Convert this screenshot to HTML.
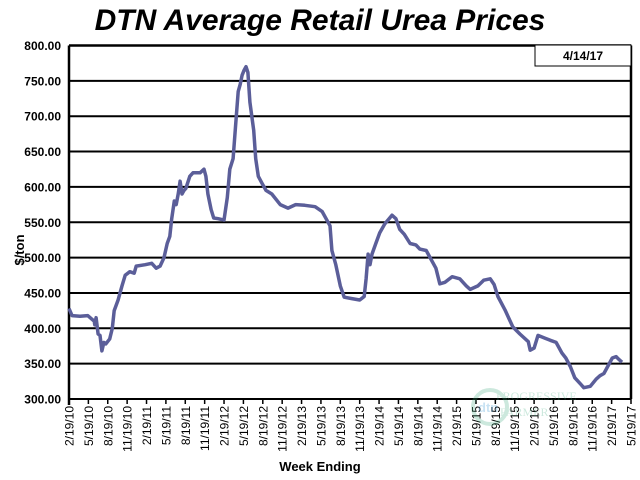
<!DOCTYPE html>
<html><head><meta charset="utf-8">
<style>
html,body{margin:0;padding:0;background:#fff;}
svg{display:block;font-family:"Liberation Sans",sans-serif;}
</style></head>
<body>
<svg id="chart" width="640" height="480" viewBox="0 0 640 480">
<text x="320" y="30" text-anchor="middle" font-size="30" font-weight="bold" font-style="italic">DTN Average Retail Urea Prices</text>
<g id="grid"></g>
<g id="yticks"></g>
<g id="xticks"></g>
<g opacity="0.25">
<circle cx="490" cy="407" r="17" fill="none" stroke="#3aa87a" stroke-width="4"/>
<text x="478" y="412" font-size="13" fill="#2a8fd0" font-weight="bold">dtn</text>
<text x="496" y="400" font-size="12" fill="#3aa87a" font-family="Liberation Serif,serif">PROGRESSIVE</text>
<text x="500" y="416" font-size="12" fill="#3aa87a" font-family="Liberation Serif,serif">FARMER</text>
</g>
<path id="series" fill="none" stroke="#5b5e99" stroke-width="3.5" stroke-linejoin="round"/>
<rect x="535" y="45" width="96" height="21" fill="#fff" stroke="#000" stroke-width="1"/>
<text x="583" y="60" text-anchor="middle" font-size="12" font-weight="bold">4/14/17</text>
<text transform="translate(24,250) rotate(-90)" text-anchor="middle" font-size="13" font-weight="bold">$/ton</text>
<text x="320" y="471" text-anchor="middle" font-size="13" font-weight="bold">Week Ending</text>
</svg>
<script>
const yTicks = [300,350,400,450,500,550,600,650,700,750,800];
const xTickLabels = ["2/19/10","5/19/10","8/19/10","11/19/10","2/19/11","5/19/11","8/19/11","11/19/11","2/19/12","5/19/12","8/19/12","11/19/12","2/19/13","5/19/13","8/19/13","11/19/13","2/19/14","5/19/14","8/19/14","11/19/14","2/19/15","5/19/15","8/19/15","11/19/15","2/19/16","5/19/16","8/19/16","11/19/16","2/19/17","5/19/17"];
// months since 2/19/10
const months = [0,0.46,1.7,2.9,3.9,4.0,4.2,4.5,4.8,5.1,5.4,5.7,6.3,6.7,7.0,7.6,8.2,8.7,9.4,10.1,10.4,11.8,12.8,13.5,14.1,14.7,15.2,15.6,15.9,16.3,16.6,16.9,17.2,17.5,17.8,18.1,18.7,19.2,20.3,20.9,21.2,21.5,22.0,22.4,23.1,24.0,24.5,24.9,25.4,25.9,26.2,26.5,26.8,27.1,27.4,27.7,28.0,28.6,28.9,29.3,29.9,30.5,31.4,32.7,33.9,35.1,36.5,38.1,39.2,39.8,40.4,40.7,41.3,42.0,42.6,43.8,45.0,45.7,46.0,46.3,46.6,46.9,47.5,48.1,48.9,50.0,50.6,51.2,51.9,52.8,53.7,54.3,55.3,55.9,56.8,57.4,58.2,59.3,60.5,61.5,62.1,63.3,64.2,65.2,65.8,66.4,67.5,68.7,69.8,71.1,71.4,72.0,72.6,73.7,74.5,75.4,76.3,76.9,77.6,78.3,79.1,79.7,80.7,81.6,82.2,82.8,83.4,84.1,84.7,85.0,85.6];
const prices = [428,418,417,418,410,405,415,392,390,368,380,378,385,400,425,440,460,475,480,478,488,490,492,485,488,500,520,530,555,580,575,590,608,590,595,598,615,620,620,625,615,590,568,556,555,553,585,625,640,700,735,745,758,765,770,762,720,680,640,615,605,595,590,575,570,575,574,572,565,555,545,510,490,460,444,442,440,445,470,505,490,505,520,535,548,560,555,540,533,520,518,512,510,500,485,463,465,473,470,460,455,460,468,470,462,445,426,402,392,381,369,372,390,386,383,380,365,358,346,330,322,316,318,328,333,336,346,358,360,357,352];

const L=69, R=631, T=45.5, B=399;
const xMax = (xTickLabels.length-1)*3;
function xs(m){return L+(m/xMax)*(R-L);}
function ys(v){return B-(v-300)/500*(B-T);}
const NS="http://www.w3.org/2000/svg";
const grid=document.getElementById('grid'), yt=document.getElementById('yticks'), xt=document.getElementById('xticks');
yTicks.forEach(v=>{
  const l=document.createElementNS(NS,'line');
  l.setAttribute('x1',L);l.setAttribute('x2',R);l.setAttribute('y1',ys(v));l.setAttribute('y2',ys(v));
  l.setAttribute('stroke','#000');l.setAttribute('stroke-width','2');
  
  
  grid.appendChild(l);
  const t=document.createElementNS(NS,'text');
  t.setAttribute('x',L-8);t.setAttribute('y',ys(v)+4.5);t.setAttribute('text-anchor','end');
  t.setAttribute('font-size','12');t.setAttribute('font-weight','bold');
  t.textContent=v.toFixed(2);
  
  
  yt.appendChild(t);
});
// axes
[[L,T,L,B+6],[R,T,R,B],[L,T,R,T]].forEach(a=>{
  const l=document.createElementNS(NS,'line');
  l.setAttribute('x1',a[0]);l.setAttribute('y1',a[1]);l.setAttribute('x2',a[2]);l.setAttribute('y2',a[3]);
  l.setAttribute('stroke','#000');l.setAttribute('stroke-width','2.5');
  
  
  grid.appendChild(l);
});
xTickLabels.forEach((s,i)=>{
  const x=xs(i*3);
  const l=document.createElementNS(NS,'line');
  l.setAttribute('x1',x);l.setAttribute('x2',x);l.setAttribute('y1',B);l.setAttribute('y2',B+5);
  l.setAttribute('stroke','#000');l.setAttribute('stroke-width','1.5');
  
  
  xt.appendChild(l);
  const t=document.createElementNS(NS,'text');
  t.setAttribute('transform','translate('+(x+4.5)+','+(B+7)+') rotate(-90)');
  t.setAttribute('text-anchor','end');t.setAttribute('font-size','12');
  t.textContent=s;
  
  
  xt.appendChild(t);
});
let d='';
months.forEach((m,i)=>{d+=(i?'L':'M')+xs(m).toFixed(1)+','+ys(prices[i]).toFixed(1);});
document.getElementById('series').setAttribute('d',d);
</script>
</body></html>
